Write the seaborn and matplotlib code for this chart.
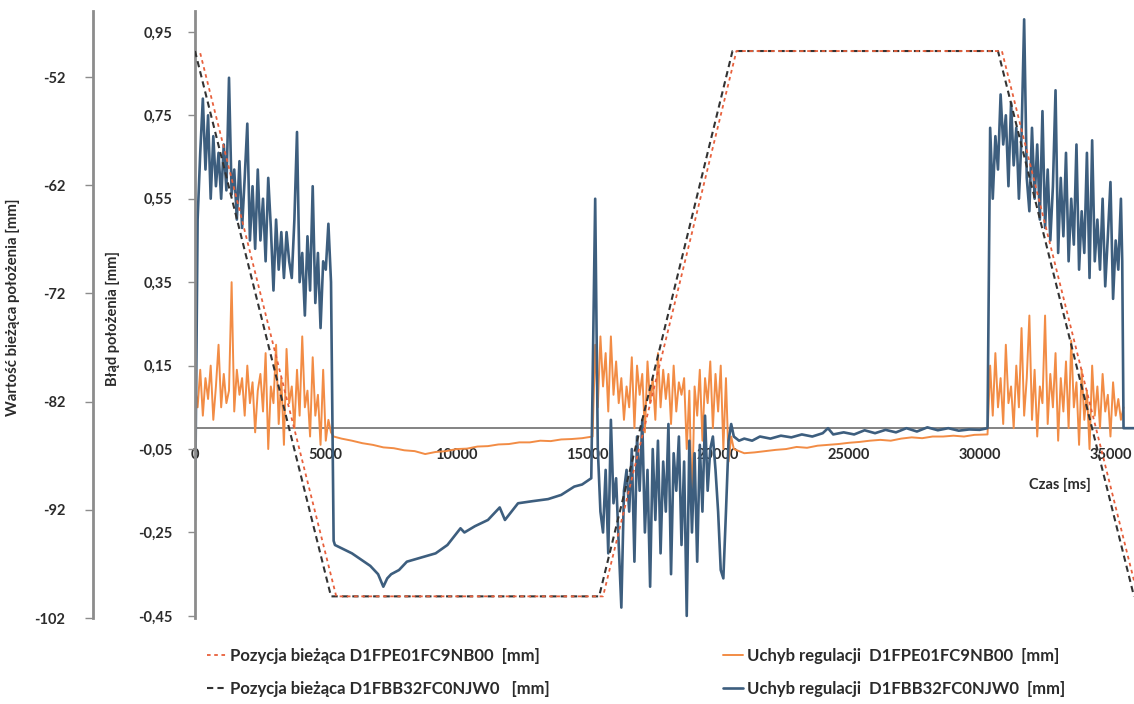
import matplotlib
matplotlib.use("Agg")
import matplotlib.pyplot as plt
from matplotlib.ticker import FixedLocator, FixedFormatter
import seaborn as sns

# ---- data ------------------------------------------------------------------
# current position [mm] (secondary axis), breakpoints of the trapezoid
t_pos_black = [0, 5200, 15450, 20550, 30700, 35900]
pos_black = [-49.6, -100, -100, -49.6, -49.6, -100]
t_pos_red = [200, 5400, 15600, 20700, 30850, 36050]
pos_red = [-49.8, -100, -100, -49.6, -49.6, -100]

# control error D1FPE01FC9NB00 [mm]
t_err_orange = (
    [0, 100, 200, 300, 400, 500, 600, 700, 800, 900, 1000, 1100, 1200, 1300, 1400,
     1500, 1600, 1700, 1800, 1900, 2000, 2100, 2200, 2300, 2400, 2500, 2600, 2700,
     2800, 2900, 3000, 3100, 3200, 3300, 3400, 3500, 3600, 3700, 3800, 3900, 4000,
     4100, 4200, 4300, 4400, 4500, 4600, 4700, 4800, 4900, 5000, 5100, 5200]
    + [5300, 5600, 6000, 6400, 6800, 7200, 7600, 8000, 8400, 8800, 9200, 9600,
       10000, 10400, 10800, 11200, 11600, 12000, 12400, 12800, 13200, 13600,
       14000, 14400, 14800, 15200]
    + [15300, 15400, 15500, 15600, 15700, 15800, 15900, 16000, 16100, 16200, 16300,
       16400, 16500, 16600, 16700, 16800, 16900, 17000, 17100, 17200, 17300, 17400,
       17500, 17600, 17700, 17800, 17900, 18000, 18100, 18200, 18300, 18400, 18500,
       18600, 18700, 18800, 18900, 19000, 19100, 19200, 19300, 19400, 19500, 19600,
       19700, 19800, 19900, 20000, 20100, 20200, 20300, 20400, 20500]
    + [20600, 21000, 21400, 21800, 22200, 22600, 23000, 23400, 23800, 24200, 24600,
       25000, 25400, 25800, 26200, 26600, 27000, 27400, 27800, 28200, 28600, 29000,
       29400, 29800, 30200, 30300]
    + [30400, 30500, 30600, 30700, 30800, 30900, 31000, 31100, 31200, 31300, 31400,
       31500, 31600, 31700, 31800, 31900, 32000, 32100, 32200, 32300, 32400, 32500,
       32600, 32700, 32800, 32900, 33000, 33100, 33200, 33300, 33400, 33500, 33600,
       33700, 33800, 33900, 34000, 34100, 34200, 34300, 34400, 34500, 34600, 34700,
       34800, 34900, 35000, 35100, 35200, 35300, 35400, 35500]
)
err_orange = (
    [0.10, 0.05, 0.14, 0.03, 0.12, 0.07, 0.15, 0.02, 0.10, 0.20, 0.05, 0.13, 0.06,
     0.09, 0.35, 0.04, 0.14, 0.08, 0.12, 0.03, 0.15, 0.06, 0.11, -0.01, 0.09, 0.13,
     0.04, 0.18, -0.05, 0.10, 0.06, 0.20, 0.01, 0.12, -0.04, 0.19, 0.06, 0.10, 0.00,
     0.14, 0.03, 0.22, 0.05, 0.09, -0.02, 0.17, 0.03, 0.08, -0.04, 0.14, -0.03, 0.02,
     -0.01]
    + [-0.02, -0.025, -0.03, -0.036, -0.04, -0.046, -0.048, -0.053, -0.055, -0.062,
       -0.057, -0.055, -0.05, -0.049, -0.044, -0.043, -0.039, -0.038, -0.034,
       -0.034, -0.03, -0.031, -0.027, -0.026, -0.024, -0.02]
    + [0.20, 0.05, 0.22, 0.10, 0.18, 0.04, 0.22, 0.08, 0.16, 0.06, 0.12, 0.02, 0.10,
       0.05, 0.17, 0.00, 0.15, 0.08, 0.13, -0.01, 0.16, 0.06, 0.12, 0.02, 0.18, 0.05,
       0.14, 0.07, 0.13, 0.01, 0.15, 0.04, 0.11, 0.08, 0.12, -0.05, 0.09, -0.20, 0.10,
       0.03, 0.14, -0.03, 0.12, 0.06, 0.16, 0.00, 0.13, 0.04, 0.15, -0.05, 0.12, -0.08,
       -0.02]
    + [-0.05, -0.06, -0.058, -0.055, -0.052, -0.05, -0.045, -0.047, -0.042, -0.04,
       -0.038, -0.035, -0.033, -0.03, -0.028, -0.03, -0.025, -0.022, -0.024, -0.02,
       -0.02, -0.018, -0.02, -0.016, -0.015, -0.015]
    + [0.15, 0.03, 0.18, 0.05, 0.12, 0.01, 0.20, 0.06, 0.10, 0.00, 0.15, 0.05, 0.24,
       0.03, 0.12, 0.27, 0.02, 0.14, -0.02, 0.10, 0.06, 0.27, 0.01, 0.13, 0.05, 0.18,
       -0.03, 0.12, 0.04, 0.16, 0.00, 0.21, 0.05, 0.11, -0.04, 0.14, 0.02, 0.09, -0.05,
       0.15, 0.03, 0.10, 0.00, 0.13, 0.04, 0.08, -0.02, 0.11, 0.03, 0.07, 0.02, 0.05]
)

# control error D1FBB32FC0NJW0 [mm]
t_err_blue = (
    [0, 100, 200, 300, 400, 500, 600, 700, 800, 900, 1000, 1100, 1200, 1300, 1400,
     1500, 1600, 1700, 1800, 1900, 2000, 2100, 2200, 2300, 2400, 2500, 2600, 2700,
     2800, 2900, 3000, 3100, 3200, 3300, 3400, 3500, 3600, 3700, 3800, 3900, 4000,
     4100, 4200, 4300, 4400, 4500, 4600, 4700, 4800, 4900, 5000, 5100, 5200]
    + [5300, 5350, 6000, 6700, 7000, 7200, 7350, 7500, 7800, 8100, 8650, 9200, 9650,
       10150, 10300, 10700, 11200, 11650, 11850, 12350, 12900, 13500, 14000, 14500,
       14800, 15150]
    + [15300, 15400, 15500, 15600, 15700, 15800, 15900, 16000, 16100, 16200, 16300,
       16400, 16500, 16600, 16700, 16800, 16900, 17000, 17100, 17200, 17300, 17400,
       17500, 17600, 17700, 17800, 17900, 18000, 18100, 18200, 18300, 18400, 18500,
       18600, 18700, 18800, 18900, 19000, 19100, 19200, 19300, 19400, 19500, 19600,
       19700, 19800, 19900, 20000, 20100, 20200, 20300, 20400, 20500]
    + [20600, 20800, 21000, 21300, 21600, 22000, 22400, 22800, 23200, 23600, 24000,
       24200, 24400, 24800, 25200, 25600, 26000, 26400, 26800, 27200, 27600, 28000,
       28400, 28800, 29200, 29600, 30000, 30300]
    + [30400, 30500, 30600, 30700, 30800, 30900, 31000, 31100, 31200, 31300, 31400,
       31500, 31600, 31700, 31800, 31900, 32000, 32100, 32200, 32300, 32400, 32500,
       32600, 32700, 32800, 32900, 33000, 33100, 33200, 33300, 33400, 33500, 33600,
       33700, 33800, 33900, 34000, 34100, 34200, 34300, 34400, 34500, 34600, 34700,
       34800, 34900, 35000, 35100, 35200, 35300, 35400, 35450, 35500, 35900]
)
err_blue = (
    [-0.22, 0.50, 0.66, 0.79, 0.62, 0.75, 0.55, 0.70, 0.58, 0.66, 0.55, 0.68, 0.57,
     0.84, 0.56, 0.62, 0.50, 0.64, 0.48, 0.60, 0.73, 0.45, 0.58, 0.43, 0.62, 0.45,
     0.55, 0.40, 0.60, 0.48, 0.33, 0.50, 0.38, 0.47, 0.36, 0.47, 0.40, 0.36, 0.50,
     0.71, 0.35, 0.42, 0.27, 0.46, 0.33, 0.58, 0.30, 0.42, 0.24, 0.40, 0.38, 0.49,
     0.35]
    + [-0.27, -0.28, -0.30, -0.33, -0.35, -0.38, -0.36, -0.35, -0.34, -0.32, -0.31,
       -0.30, -0.28, -0.24, -0.25, -0.235, -0.22, -0.19, -0.22, -0.18, -0.175,
       -0.17, -0.16, -0.14, -0.135, -0.12]
    + [0.55, -0.05, -0.20, -0.25, -0.10, -0.30, 0.02, -0.18, -0.12, -0.28, -0.43,
       -0.15, -0.10, -0.20, -0.05, -0.32, -0.02, -0.15, 0.02, -0.25, -0.10, -0.38,
       -0.05, -0.22, -0.03, -0.30, -0.08, -0.20, 0.01, -0.35, -0.06, -0.15, -0.02,
       -0.28, -0.08, -0.45, -0.03, -0.25, -0.06, -0.32, -0.04, -0.20, 0.03, -0.15,
       -0.05, -0.02, -0.10, -0.20, -0.34, -0.36, -0.20, -0.03, 0.01]
    + [-0.02, -0.03, -0.025, -0.03, -0.02, -0.025, -0.018, -0.022, -0.015, -0.02,
       -0.012, 0.0, -0.015, -0.01, -0.015, -0.005, -0.012, -0.004, -0.01, 0.0,
       -0.008, 0.002, -0.005, 0.0, -0.006, -0.003, -0.004, 0.0]
    + [0.72, 0.55, 0.70, 0.62, 0.80, 0.68, 0.75, 0.58, 0.78, 0.63, 0.72, 0.55, 0.70,
       0.98, 0.60, 0.52, 0.72, 0.55, 0.68, 0.50, 0.76, 0.48, 0.62, 0.45, 0.58, 0.81,
       0.42, 0.60, 0.46, 0.66, 0.40, 0.55, 0.44, 0.68, 0.38, 0.52, 0.42, 0.66, 0.36,
       0.69, 0.40, 0.50, 0.38, 0.55, 0.34, 0.46, 0.59, 0.31, 0.45, 0.38, 0.55, 0.40,
       0.0, 0.0]
)

err_ticks = [-0.45, -0.25, -0.05, 0.15, 0.35, 0.55, 0.75, 0.95]
err_labels = ["-0,45", "-0,25", "-0,05", "0,15", "0,35", "0,55", "0,75", "0,95"]
pos_ticks = [-102, -92, -82, -72, -62, -52]
pos_labels = ["-102", "-92", "-82", "-72", "-62", "-52"]
time_ticks = [0, 5000, 10000, 15000, 20000, 25000, 30000, 35000]
time_labels = ["0", "5000", "10000", "15000", "20000", "25000", "30000", "35000"]

legend_labels = [
    "Pozycja bieżąca D1FPE01FC9NB00  [mm]",
    "Pozycja bieżąca D1FBB32FC0NJW0   [mm]",
    "Uchyb regulacji  D1FPE01FC9NB00  [mm]",
    "Uchyb regulacji  D1FBB32FC0NJW0  [mm]",
]

# ---- styling ---------------------------------------------------------------
sns.set_style("white")
plt.rcParams['font.family'] = ['Lato', 'DejaVu Sans']
plt.rcParams['font.weight'] = 'bold'

c_orange = "#F28C45"
c_blue = "#3D5E7E"
c_red = "#E8603C"
c_black = "#333333"
c_axis = "#8C8C8C"
c_text = "#2B2B2B"

fig = plt.figure(figsize=(11.34, 7.04), dpi=100)
ax = fig.add_axes([195 / 1134, 1 - 618 / 704, 939 / 1134, 607 / 704])
ax2 = ax.twinx()

sns.lineplot(x=t_err_orange, y=err_orange, ax=ax, color=c_orange, linewidth=1.4,
             estimator=None, sort=False, label=legend_labels[2], legend=False)
sns.lineplot(x=t_err_blue, y=err_blue, ax=ax, color=c_blue, linewidth=1.9,
             estimator=None, sort=False, label=legend_labels[3], legend=False)
ax.axhline(0, color="#6E6E6E", linewidth=1.2, zorder=1)

sns.lineplot(x=t_pos_black, y=pos_black, ax=ax2, color=c_black, linewidth=1.5,
             linestyle=(0, (3, 2)), estimator=None, sort=False,
             label=legend_labels[1], legend=False)
sns.lineplot(x=t_pos_red, y=pos_red, ax=ax2, color=c_red, linewidth=1.3,
             linestyle=(0, (2, 2)), estimator=None, sort=False,
             label=legend_labels[0], legend=False)

ax.set_xlim(0, 35900)
ax.set_ylim(-0.455, 1.0)
ax2.set_ylim(-102, -45.9)

# primary (error) axis
for s in ["top", "right"]:
    ax.spines[s].set_visible(False)
ax.spines["left"].set_color(c_axis)
ax.spines["left"].set_linewidth(2)
ax.spines["bottom"].set_position(("data", 0))
ax.spines["bottom"].set_visible(False)
ax.yaxis.set_major_locator(FixedLocator(err_ticks))
ax.yaxis.set_major_formatter(FixedFormatter(err_labels))
ax.xaxis.set_major_locator(FixedLocator(time_ticks))
ax.xaxis.set_major_formatter(FixedFormatter(time_labels))
ax.tick_params(axis="y", direction="out", length=5, width=1, color=c_axis,
               pad=11, labelsize=10.5, labelcolor=c_text)
ax.tick_params(axis="x", direction="out", length=0, pad=14, labelsize=10.5,
               labelcolor=c_text)
ax.set_xlabel("Czas [ms]", fontsize=10.5, color=c_text, fontweight="bold")
ax.set_ylabel("Błąd położenia [mm]", fontsize=10.5, color=c_text, fontweight="bold")

# secondary (position) axis on the far left
ax2.yaxis.set_ticks_position("left")
ax2.yaxis.set_label_position("left")
ax2.spines["left"].set_position(("axes", -102 / 939))
ax2.spines["left"].set_visible(True)
ax2.spines["left"].set_color(c_axis)
ax2.spines["left"].set_linewidth(2)
for s in ["top", "right", "bottom"]:
    ax2.spines[s].set_visible(False)
ax2.yaxis.set_major_locator(FixedLocator(pos_ticks))
ax2.yaxis.set_major_formatter(FixedFormatter(pos_labels))
ax2.tick_params(axis="y", direction="out", length=6, width=1, color=c_axis,
                pad=14, labelsize=10.5, labelcolor=c_text)
ax2.set_ylabel("Wartość bieżąca położenia [mm]", fontsize=10.8, color=c_text,
               fontweight="bold")

# label positions (set last so spine moves do not reset them)
ax.xaxis.set_label_coords((1060 - 195) / 939, (618 - 478) / 607)
ax.yaxis.set_label_coords((120 - 195) / 939, (618 - 318) / 607)
ax2.yaxis.set_label_coords((20 - 195) / 939, (618 - 307) / 607)

# legend below the plot
h1, l1 = ax.get_legend_handles_labels()
h2, l2 = ax2.get_legend_handles_labels()
handles = [h2[1], h2[0], h1[0], h1[1]]
labels = [l2[1], l2[0], l1[0], l1[1]]
leg = fig.legend(handles, labels, loc="lower left",
                 bbox_to_anchor=(192 / 1134, -8 / 704),
                 ncol=2, frameon=False, handlelength=1.2,
                 handletextpad=0.2, columnspacing=10.4, labelspacing=1.05,
                 prop={"weight": "bold", "size": 12})
for t in leg.get_texts():
    t.set_color(c_text)

fig.savefig("out.png", dpi=100)
